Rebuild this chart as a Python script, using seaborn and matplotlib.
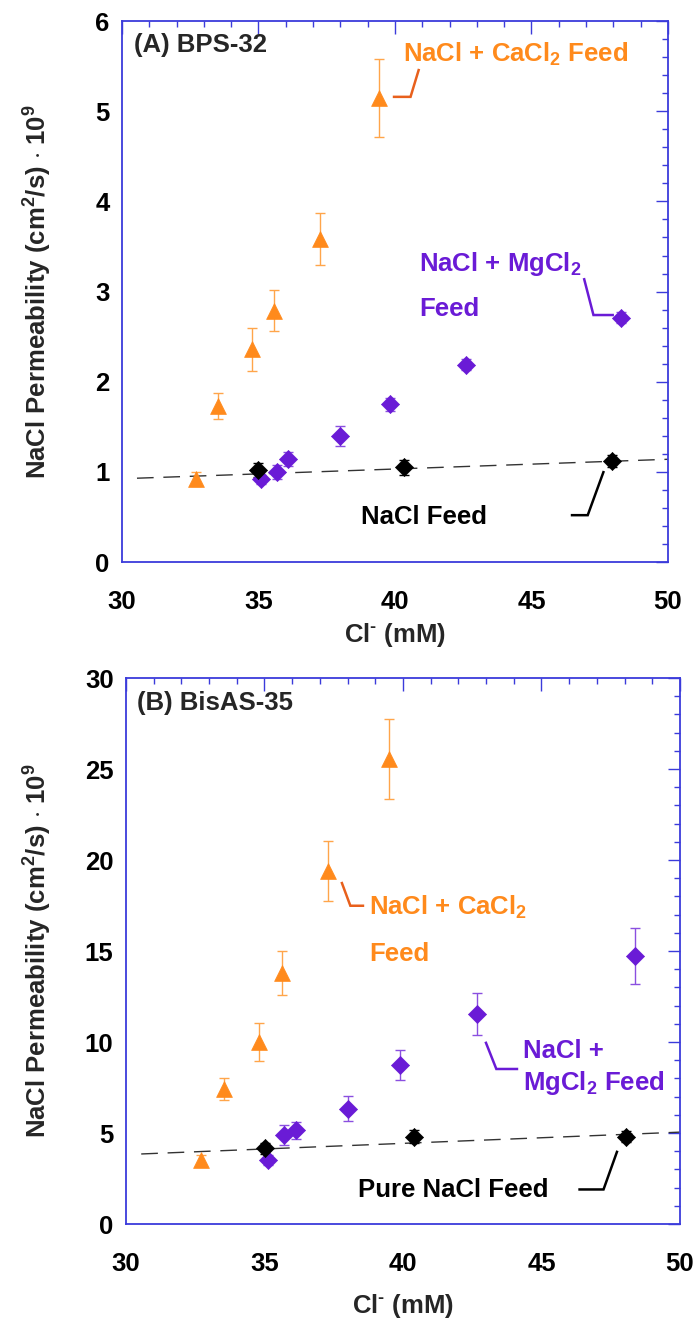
import matplotlib
matplotlib.use("Agg")
import matplotlib.pyplot as plt
from matplotlib.ticker import MultipleLocator
import pandas as pd
import seaborn as sns

# ---- Panel A: BPS-32 ----
cacl_x_A = [32.72, 33.52, 34.78, 35.57, 37.25, 39.43]
cacl_y_A = [0.92, 1.73, 2.36, 2.79, 3.58, 5.15]
cacl_err_A = [0.08, 0.14, 0.24, 0.23, 0.29, 0.43]

mgcl_x_A = [35.08, 35.68, 36.08, 37.97, 39.83, 42.60, 48.27]
mgcl_y_A = [0.92, 1.00, 1.14, 1.40, 1.75, 2.19, 2.71]
mgcl_err_A = [0.05, 0.08, 0.08, 0.11, 0.07, 0.06, 0.06]

nacl_x_A = [35.00, 40.33, 47.96]
nacl_y_A = [1.02, 1.05, 1.12]
nacl_err_A = [0.08, 0.08, 0.07]

fit_x = [30.55, 50.0]
fit_y_A = [0.93, 1.14]

# ---- Panel B: BisAS-35 ----
cacl_x_B = [32.72, 33.54, 34.82, 35.62, 37.30, 39.49]
cacl_y_B = [3.52, 7.44, 10.02, 13.79, 19.41, 25.53]
cacl_err_B = [0.30, 0.60, 1.05, 1.20, 1.65, 2.20]

mgcl_x_B = [35.12, 35.72, 36.14, 38.02, 39.90, 42.68, 48.37]
mgcl_y_B = [3.52, 4.89, 5.16, 6.34, 8.74, 11.54, 14.74]
mgcl_err_B = [0.25, 0.55, 0.47, 0.68, 0.85, 1.16, 1.55]

nacl_x_B = [35.01, 40.41, 48.06]
nacl_y_B = [4.16, 4.80, 4.80]
nacl_err_B = [0.30, 0.35, 0.30]

fit_y_B = [3.85, 5.05]

x_ticks = [30, 35, 40, 45, 50]
x_label = r"Cl$^{\text{-}}$ (mM)"
y_label = r"NaCl Permeability (cm$^{2}$/s) $\cdot$ 10$^{9}$"

ORANGE = "#ff8a1c"
ORANGE_ERR = "#ffa54a"
ORANGE_LEAD = "#e8601c"
PURPLE = "#6a1bd6"
PURPLE_ERR = "#8a4fe0"
BLACK = "#000000"
SPINE = "#3b3bdb"
FS = 18.5

sns.set_theme(style="white")
plt.rcParams["font.family"] = ["Liberation Sans", "DejaVu Sans"]
plt.rcParams["font.weight"] = "bold"
plt.rcParams["mathtext.fontset"] = "custom"
plt.rcParams["mathtext.rm"] = "Liberation Sans:bold"
plt.rcParams["mathtext.bf"] = "Liberation Sans:bold"
plt.rcParams["mathtext.it"] = "Liberation Sans:bold"
plt.rcParams["mathtext.sf"] = "Liberation Sans:bold"
plt.rcParams["mathtext.default"] = "rm"

fig = plt.figure(figsize=(6.93, 13.2), dpi=100)
axA = fig.add_axes([0.1760, 0.5742, 0.7879, 0.4098])
axB = fig.add_axes([0.1818, 0.0727, 0.7994, 0.4136])


def series(ax, xs, ys, errs, marker, size, color, ecolor):
    df = pd.DataFrame({"Cl": xs, "P": ys})
    ax.errorbar(xs, ys, yerr=errs, fmt="none", ecolor=ecolor,
                elinewidth=1.0, capsize=3.5, capthick=1.0, zorder=2)
    sns.scatterplot(data=df, x="Cl", y="P", marker=marker, s=size,
                    color=color, edgecolor=color, linewidth=0.5,
                    ax=ax, zorder=3, legend=False)


def style_axes(ax, ymax, ymajor, yminor, xlab_off, ylab_off):
    ax.set_xlim(30, 50)
    ax.set_ylim(0, ymax)
    ax.set_xticks(x_ticks)
    ax.xaxis.set_minor_locator(MultipleLocator(1))
    ax.yaxis.set_major_locator(MultipleLocator(ymajor))
    ax.yaxis.set_minor_locator(MultipleLocator(yminor))
    ax.tick_params(which="both", direction="in", top=True, right=True,
                   color=SPINE, labelcolor="black", labelsize=FS)
    ax.tick_params(which="major", length=9, width=1.0)
    ax.tick_params(which="minor", length=4.5, width=1.0)
    ax.tick_params(axis="x", which="major", pad=20)
    ax.tick_params(axis="y", which="major", pad=9)
    for lab in ax.get_xticklabels() + ax.get_yticklabels():
        lab.set_fontweight("bold")
    for sp in ax.spines.values():
        sp.set_color(SPINE)
        sp.set_linewidth(1.3)
        sp.set_visible(True)
    ax.grid(False)
    ax.set_facecolor("white")
    ax.set_xlabel(x_label, fontsize=FS, fontweight="bold")
    ax.set_ylabel(y_label, fontsize=FS, fontweight="bold")
    ax.xaxis.label.set_va("center")
    ax.yaxis.label.set_va("center")
    ax.xaxis.set_label_coords(0.5, xlab_off)
    ax.yaxis.set_label_coords(ylab_off, 0.5)


def fit_line(ax, ys):
    sns.lineplot(x=fit_x, y=ys, ax=ax, color="#333333", linewidth=1.0,
                 linestyle=(0, (12, 7)), zorder=1)


def leader(ax, xs, ys, color):
    ax.plot(xs, ys, color=color, linewidth=1.8, solid_joinstyle="miter",
            solid_capstyle="butt", zorder=4)


def label(ax, x, y, text, color):
    ax.text(x, y, text, color=color, fontsize=FS, fontweight="bold",
            ha="left", va="baseline", zorder=5)


# Panel A
fit_line(axA, fit_y_A)
series(axA, cacl_x_A, cacl_y_A, cacl_err_A, "^", 130, ORANGE, ORANGE_ERR)
series(axA, mgcl_x_A, mgcl_y_A, mgcl_err_A, "D", 85, PURPLE, PURPLE_ERR)
series(axA, nacl_x_A, nacl_y_A, nacl_err_A, "D", 85, BLACK, BLACK)
style_axes(axA, 6, 1, 0.2, -0.135, -0.154)
axA.text(0.022, 0.956, "(A) BPS-32", transform=axA.transAxes,
         fontsize=FS, fontweight="bold", ha="left", va="center")
label(axA, 40.29, 5.55, r"NaCl + CaCl$_{2}$ Feed", ORANGE)
leader(axA, [39.92, 40.57, 40.88], [5.16, 5.16, 5.47], ORANGE_LEAD)
label(axA, 40.88, 3.23, r"NaCl + MgCl$_{2}$", PURPLE)
label(axA, 40.88, 2.73, "Feed", PURPLE)
leader(axA, [46.92, 47.27, 48.02], [3.15, 2.74, 2.74], PURPLE)
label(axA, 38.74, 0.42, "NaCl Feed", BLACK)
leader(axA, [46.44, 47.06, 47.65], [0.52, 0.52, 1.01], BLACK)

# Panel B
fit_line(axB, fit_y_B)
series(axB, cacl_x_B, cacl_y_B, cacl_err_B, "^", 130, ORANGE, ORANGE_ERR)
series(axB, mgcl_x_B, mgcl_y_B, mgcl_err_B, "D", 85, PURPLE, PURPLE_ERR)
series(axB, nacl_x_B, nacl_y_B, nacl_err_B, "D", 85, BLACK, BLACK)
style_axes(axB, 30, 5, 1, -0.150, -0.159)
axB.text(0.020, 0.954, "(B) BisAS-35", transform=axB.transAxes,
         fontsize=FS, fontweight="bold", ha="left", va="center")
label(axB, 38.78, 16.98, r"NaCl + CaCl$_{2}$", ORANGE)
label(axB, 38.78, 14.47, "Feed", ORANGE)
leader(axB, [37.78, 38.10, 38.60], [18.8, 17.49, 17.49], ORANGE_LEAD)
label(axB, 44.32, 9.10, "NaCl +", PURPLE)
label(axB, 44.32, 7.36, r"MgCl$_{2}$ Feed", PURPLE)
leader(axB, [42.98, 43.37, 44.16], [10.02, 8.52, 8.52], PURPLE)
label(axB, 38.37, 1.50, "Pure NaCl Feed", BLACK)
leader(axB, [46.33, 47.24, 47.74], [1.9, 1.9, 4.03], BLACK)

fig.savefig("out.png", dpi=100, facecolor="white")
